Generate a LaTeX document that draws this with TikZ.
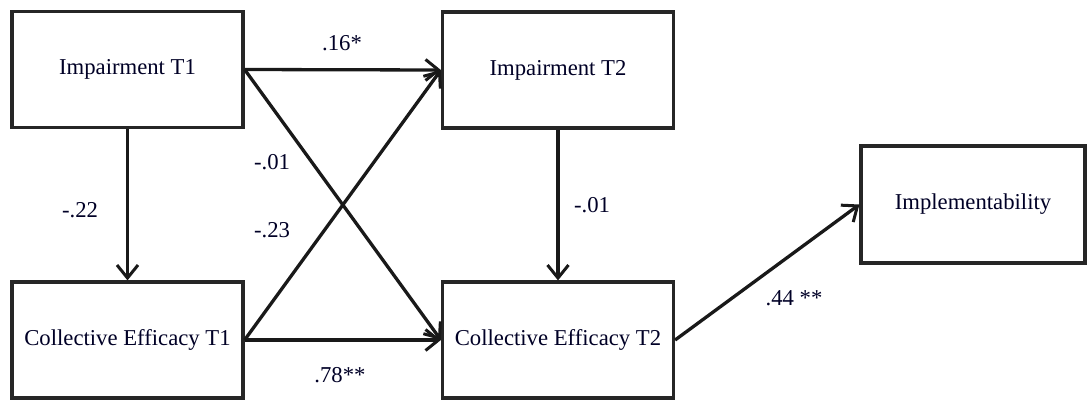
\documentclass[tikz,border=0pt]{standalone}
\usepackage{fontspec}
\setmainfont{Liberation Serif}
\usetikzlibrary{arrows.meta,shadows}
\begin{document}
\begin{tikzpicture}[x=1pt,y=-1pt,
  box/.style={draw=black!85,line width=3.2pt,fill=white,minimum width=231pt,minimum height=116pt,inner sep=0pt,
    font=\fontsize{22.7pt}{26pt}\selectfont,text=black!85!blue,
    drop shadow={shadow xshift=1.5pt,shadow yshift=-1.5pt,opacity=0.25,fill=black}},
  conn/.style={line width=3.3pt,draw=black!90,-{Straight Barb[length=13pt,width=21pt,line width=3pt]}},
  lbl/.style={font=\fontsize{22.7pt}{26pt}\selectfont,text=black!85!blue,inner sep=0pt}]
\useasboundingbox (0,0) rectangle (1087,400);
\clip (0,0) rectangle (1087,400);
\node[box] (it1) at (127.5,69.5) {Impairment T1};
\node[box] (ce1) at (127.5,340) {Collective Efficacy T1};
\node[box] (it2) at (558,70) {Impairment T2};
\node[box] (ce2) at (558,340) {Collective Efficacy T2};
\node[box,minimum width=224pt,minimum height=117pt] (imp) at (973,204.5) {Implementability};
\draw[conn] (it1.east) -- (it2.west);
\draw[conn] (it1.east) -- (ce2.west);
\draw[conn] (ce1.east) -- (it2.west);
\draw[conn] (ce1.east) -- (ce2.west);
\draw[conn] (it1.south) -- (ce1.north);
\draw[conn] (it2.south) -- (ce2.north);
\draw[conn] (ce2.east) -- (imp.west);
\node[lbl] (l1) at (342,43) {.16*};
\node[lbl] (l2) at (272,162) {-.01};
\node[lbl] (l3) at (80,210) {-.22};
\node[lbl] (l4) at (272,230) {-.23};
\node[lbl] (l5) at (340,375) {.78**};
\node[lbl] (l6) at (592,205) {-.01};
\node[lbl] (l7) at (794,298) {.44 **};
\end{tikzpicture}
\end{document}
